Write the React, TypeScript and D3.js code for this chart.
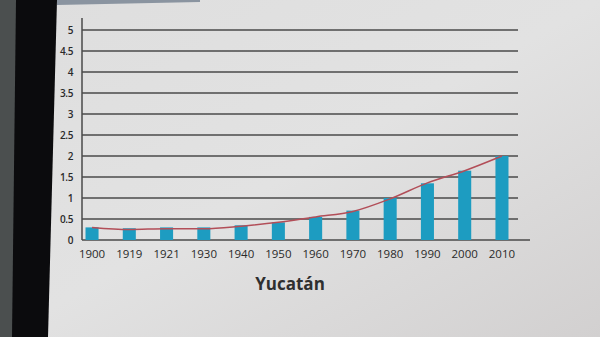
import React from "react";
import * as d3 from "d3";

const years = ["1900", "1919", "1921", "1930", "1940", "1950", "1960", "1970", "1980", "1990", "2000", "2010"];
const population = [0.3, 0.28, 0.3, 0.3, 0.35, 0.42, 0.55, 0.7, 1.0, 1.35, 1.65, 2.0];
const trend = [0.3, 0.25, 0.27, 0.27, 0.33, 0.42, 0.55, 0.68, 0.98, 1.36, 1.65, 2.0];
const yTicks = [0, 0.5, 1, 1.5, 2, 2.5, 3, 3.5, 4, 4.5, 5];
const title = "Yucatán";

export default function App() {
  const W = 600, H = 337;
  const x = d3.scaleBand<string>().domain(years).range([73.4, 520.6]).paddingInner(0.65).paddingOuter(0.325);
  const y = d3.scaleLinear().domain([0, 5]).range([240, 30]);
  const line = d3
    .line<number>()
    .x((_, i) => (x(years[i]) as number) + x.bandwidth() / 2)
    .y((d) => y(d))
    .curve(d3.curveMonotoneX);
  return (
    <svg width={W} height={H} style={{ position: "absolute", left: 0, top: 0 }}>
      <defs>
        <linearGradient id="bg" x1="0" y1="0" x2="1" y2="1">
          <stop offset="0" stopColor="#dedede" />
          <stop offset="0.5" stopColor="#e2e2e2" />
          <stop offset="1" stopColor="#d2d0d0" />
        </linearGradient>
      </defs>
      <rect x={0} y={0} width={W} height={H} fill="url(#bg)" />
      <rect x={0} y={0} width={18} height={H} fill="#4b4f4f" />
      <polygon points="16,0 57,0 48,337 12,337" fill="#0b0b0d" />
      <polygon points="57,0 200,0 200,2 57,5" fill="#8a94a0" />
      {yTicks.filter((t) => t > 0).map((t) => (
        <line key={t} x1={82} x2={518} y1={y(t)} y2={y(t)} stroke="#4a4a4a" strokeWidth={1.6} />
      ))}
      <line x1={82} x2={82} y1={18} y2={y(0)} stroke="#4a4a4a" strokeWidth={1.5} />
      <line x1={82} x2={530} y1={y(0)} y2={y(0)} stroke="#4a4a4a" strokeWidth={1.5} />
      {yTicks.map((t) => (
        <text key={t} x={73} y={y(t) + 3.5} textAnchor="end" fontSize={10} fontWeight={600} fontFamily="'Open Sans', sans-serif" fill="#2a2a2a" letterSpacing={-0.4}>
          {String(t)}
        </text>
      ))}
      {years.map((yr, i) => (
        <rect
          key={yr}
          x={x(yr)}
          y={y(population[i])}
          width={x.bandwidth()}
          height={y(0) - y(population[i])}
          fill="#1d9cc1"
        />
      ))}
      <path d={line(trend) || ""} fill="none" stroke="#b24e58" strokeWidth={1.5} />
      {years.map((yr) => (
        <text
          key={yr}
          x={(x(yr) as number) + x.bandwidth() / 2}
          y={258}
          textAnchor="middle"
          fontSize={11.5}
          fontFamily="'Open Sans', sans-serif"
          fill="#2a2a2a"
        >
          {yr}
        </text>
      ))}
      <text x={290} y={290} textAnchor="middle" fontSize={17} fontWeight="bold" fontFamily="'Open Sans', sans-serif" fill="#2f2f2f">
        {title}
      </text>
    </svg>
  );
}
